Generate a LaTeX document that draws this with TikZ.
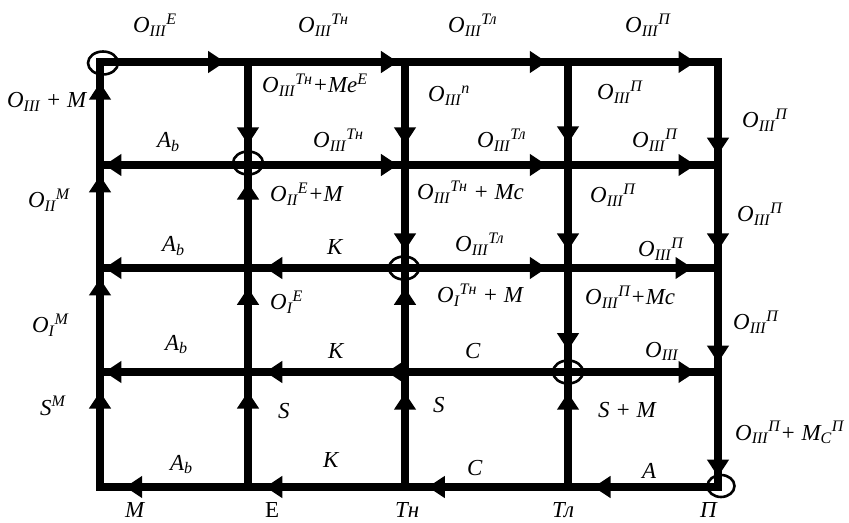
\documentclass[tikz,border=0pt]{standalone}
\usepackage{fontspec}
\setmainfont{Liberation Serif}
\usetikzlibrary{arrows.meta, decorations.markings, shapes.geometric}
\tikzset{
  edge/.style={line width=7.5bp, line cap=rect},
  flow/.style={postaction={decorate, decoration={markings,
      mark=at position #1 with {\arrow{Triangle[length=17bp,width=21bp]}}}}},
  ring/.style={ellipse, draw, line width=2.6bp, minimum width=30bp, minimum height=23bp, inner sep=0pt},
  lbl/.style={anchor=base west, inner sep=0pt, font=\fontsize{23}{27}\selectfont\itshape}
}
\newcommand{\Osym}[2]{O\textsubscript{#1}\textsuperscript{#2}}

\begin{document}
\begin{tikzpicture}[x=1bp, y=-1bp]
\useasboundingbox (0,0) rectangle (849,523);
% grid points: columns M, E, Tn, Tl, P; rows 0 (top) to 4 (bottom)
\foreach \c/\x in {M/100, E/248, Tn/405, Tl/568, P/718}
  \foreach \r/\y in {0/62, 1/165, 2/268, 3/372, 4/487}
    \coordinate (\c\r) at (\x,\y);

% horizontal flows
\foreach \a/\b/\p in {M0/E0/0.845, E0/Tn0/0.955, Tn0/Tl0/0.87, Tl0/P0/0.85,
                      E1/M1/0.97, E1/Tn1/0.955, Tn1/Tl1/0.87, Tl1/P1/0.85,
                      E2/M2/0.97, Tn2/E2/0.89, Tn2/Tl2/0.87, Tl2/P2/0.83,
                      E3/M3/0.97, Tn3/E3/0.89, Tl3/P3/0.85,
                      E4/M4/0.83, Tn4/E4/0.89, Tl4/Tn4/0.86, P4/Tl4/0.83}
  \draw[edge, flow=\p] (\a) -- (\b);
\draw[edge] (Tl3) -- (Tn3);
\draw[edge, flow=0.115] (Tn3) -- (E3);

% vertical flows
\foreach \a/\b/\p in {M4/M3/0.83, M3/M2/0.9, M2/M1/0.9, M1/M0/0.8,
                      E0/E1/0.8, E2/E1/0.83, E3/E2/0.81, E4/E3/0.83,
                      Tn0/Tn1/0.8, Tn1/Tn2/0.83, Tn3/Tn2/0.81, Tn4/Tn3/0.82,
                      Tl0/Tl1/0.79, Tl1/Tl2/0.83, Tl2/Tl3/0.79, Tl4/Tl3/0.82,
                      P0/P1/0.9, P1/P2/0.83, P2/P3/0.91, P3/P4/0.91}
  \draw[edge, flow=\p] (\a) -- (\b);

% junction rings
\node[ring] (rM0) at (103,63) {};
\node[ring] (rE1) at (248,163) {};
\node[ring] (rTn2) at (404,268) {};
\node[ring] (rTl3) at (568,372) {};
\node[ring, minimum width=27bp, minimum height=22bp] (rP4) at (721,486) {};

% labels, top row
\node[lbl] (t1) at (133,33) {\Osym{III}{E}};
\node[lbl] (t2) at (298,33) {\Osym{III}{Тн}};
\node[lbl] (t3) at (448,33) {\Osym{III}{Тл}};
\node[lbl] (t4) at (625,33) {\Osym{III}{П}};
% between rows 0 and 1
\node[lbl] (v01a) at (7,108) {O\textsubscript{III} + M};
\node[lbl] (v01b) at (262,93) {\Osym{III}{Тн}+Me\textsuperscript{E}};
\node[lbl] (v01c) at (428,102) {\Osym{III}{n}};
\node[lbl] (v01d) at (597,100) {\Osym{III}{П}};
\node[lbl] (v01e) at (742,128) {\Osym{III}{П}};
% row 1
\node[lbl] (h1a) at (157,148) {A\textsubscript{b}};
\node[lbl] (h1b) at (313,148) {\Osym{III}{Тн}};
\node[lbl] (h1c) at (477,148) {\Osym{III}{Тл}};
\node[lbl] (h1d) at (632,148) {\Osym{III}{П}};
% between rows 1 and 2
\node[lbl] (v12a) at (28,208) {\Osym{II}{M}};
\node[lbl] (v12b) at (270,202) {\Osym{II}{E}+M};
\node[lbl] (v12c) at (417,200) {\Osym{III}{Тн} + Mc};
\node[lbl] (v12d) at (590,203) {\Osym{III}{П}};
\node[lbl] (v12e) at (737,222) {\Osym{III}{П}};
% row 2
\node[lbl] (h2a) at (162,252) {A\textsubscript{b}};
\node[lbl] (h2b) at (327,255) {K};
\node[lbl] (h2c) at (455,252) {\Osym{III}{Тл}};
\node[lbl] (h2d) at (638,257) {\Osym{III}{П}};
% between rows 2 and 3
\node[lbl] (v23a) at (32,333) {\Osym{I}{M}};
\node[lbl] (v23b) at (270,310) {\Osym{I}{E}};
\node[lbl] (v23c) at (437,303) {\Osym{I}{Тн} + M};
\node[lbl] (v23d) at (585,305) {\Osym{III}{П}+Mc};
\node[lbl] (v23e) at (733,330) {\Osym{III}{П}};
% row 3
\node[lbl] (h3a) at (165,350) {A\textsubscript{b}};
\node[lbl] (h3b) at (328,358) {K};
\node[lbl] (h3c) at (465,358) {C};
\node[lbl] (h3d) at (645,357) {O\textsubscript{III}};
% between rows 3 and 4
\node[lbl] (v34a) at (40,415) {S\textsuperscript{M}};
\node[lbl] (v34b) at (278,418) {S};
\node[lbl] (v34c) at (433,412) {S};
\node[lbl] (v34d) at (598,417) {S + M};
\node[lbl] (v34e) at (735,440) {\Osym{III}{П}+ M\textsubscript{C}\textsuperscript{П}};
% bottom row
\node[lbl] (h4a) at (170,470) {A\textsubscript{b}};
\node[lbl] (h4b) at (323,467) {K};
\node[lbl] (h4c) at (467,475) {C};
\node[lbl] (h4d) at (642,478) {A};
% column names
\node[lbl] (nM) at (125,517) {M};
\node[lbl, font=\fontsize{23}{27}\selectfont\upshape] (nE) at (265,517) {Е};
\node[lbl] (nTn) at (395,517) {Тн};
\node[lbl] (nTl) at (552,517) {Тл};
\node[lbl] (nP) at (700,517) {П};
\end{tikzpicture}
\end{document}
